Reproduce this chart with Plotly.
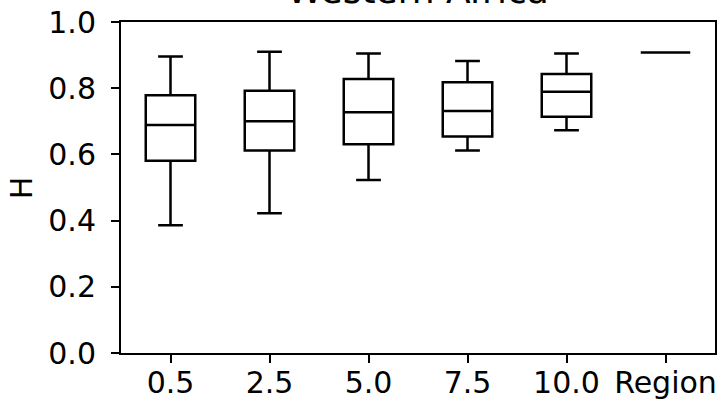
import plotly.graph_objects as go

categories = ["0.5", "2.5", "5.0", "7.5", "10.0", "Region"]
lower_whisker = [0.386, 0.422, 0.523, 0.612, 0.673, 0.908]
q1_values = [0.581, 0.612, 0.631, 0.654, 0.714, 0.908]
medians = [0.689, 0.700, 0.727, 0.731, 0.789, 0.908]
q3_values = [0.779, 0.792, 0.828, 0.818, 0.843, 0.908]
upper_whisker = [0.896, 0.910, 0.905, 0.882, 0.905, 0.908]
y_ticks = [0.0, 0.2, 0.4, 0.6, 0.8, 1.0]

FONT = "DejaVu Sans"

fig = go.Figure()
fig.add_trace(go.Box(
    x=categories,
    q1=q1_values,
    median=medians,
    q3=q3_values,
    lowerfence=lower_whisker,
    upperfence=upper_whisker,
    width=0.5,
    whiskerwidth=0.5,
    fillcolor="white",
    line=dict(color="black", width=2.5),
    boxpoints=False,
    showlegend=False,
    hoverinfo="skip",
))

fig.update_layout(
    width=723,
    height=404,
    margin=dict(l=121, r=8, t=22, b=51, autoexpand=False),
    paper_bgcolor="white",
    plot_bgcolor="white",
    font=dict(family=FONT, size=30, color="black"),
    showlegend=False,
    annotations=[
        dict(text="Western Africa", xref="paper", yref="paper", x=0.5, y=1.095,
             xanchor="center", yanchor="middle", showarrow=False,
             font=dict(family=FONT, size=36, color="black")),
        dict(text="H", xref="paper", yref="paper", x=-0.167, y=0.5,
             xanchor="center", yanchor="middle", textangle=-90, showarrow=False,
             font=dict(family=FONT, size=30, color="black")),
    ],
)

fig.update_xaxes(
    type="category",
    categoryorder="array",
    categoryarray=categories,
    range=[-0.5, 5.5],
    automargin=False,
    showline=True, linecolor="black", linewidth=2, mirror=True,
    ticks="outside", ticklen=8, tickwidth=2, tickcolor="black",
    showgrid=False, zeroline=False,
    ticklabelstandoff=-6,
    tickfont=dict(family=FONT, size=30, color="black"),
)
fig.update_yaxes(
    range=[0, 1],
    tickvals=y_ticks,
    ticktext=[f"{v:.1f}" for v in y_ticks],
    automargin=False,
    showline=True, linecolor="black", linewidth=2, mirror=True,
    ticks="outside", ticklen=8, tickwidth=2, tickcolor="black",
    showgrid=False, zeroline=False,
    ticklabelstandoff=9,
    tickfont=dict(family=FONT, size=30, color="black"),
)

fig.write_html("out.html")
